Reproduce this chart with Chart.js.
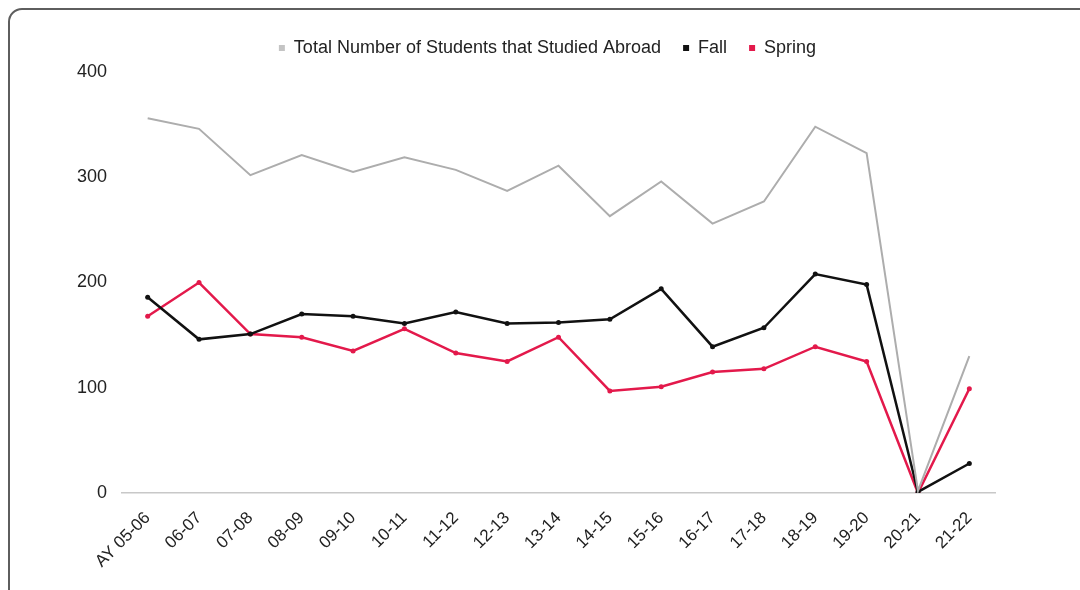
<!DOCTYPE html>
<html>
<head>
<meta charset="utf-8">
<script src="https://cdn.jsdelivr.net/npm/chart.js@4/dist/chart.umd.min.js"></script>
<style>
  html, body { margin: 0; padding: 0; background: #ffffff; overflow: hidden; }
  #wrap { position: relative; width: 1080px; height: 590px; }
  #frame { position: absolute; left: 8px; top: 8px; width: 1100px; height: 620px;
           border: 2.5px solid #5e5e5e; border-radius: 14px; box-sizing: border-box; }
  canvas { position: absolute; left: 0; top: 0; }
</style>
</head>
<body>
<div id="wrap">
  <div id="frame"></div>
  <canvas id="c" width="1080" height="590"></canvas>
</div>
<script>
const categories = ["AY 05-06","06-07","07-08","08-09","09-10","10-11","11-12","12-13","13-14","14-15","15-16","16-17","17-18","18-19","19-20","20-21","21-22"];
const totalStudents = [356,346,302,321,305,319,307,287,311,263,296,256,277,348,323,2,130];
const fallStudents = [186,146,151,170,168,161,172,161,162,165,194,139,157,208,198,1,28];
const springStudents = [168,200,151,148,135,156,133,125,148,97,101,115,118,139,125,0,99];
const yTicks = [0,100,200,300,400];

const seriesNames = ["Total Number of Students that Studied Abroad","Fall","Spring"];
const seriesColors = ["#adadad","#111111","#e3194b"];
const FONT = 'Arial, "Liberation Sans", sans-serif';

const ds = [totalStudents, fallStudents, springStudents].map((d, i) => ({
  label: seriesNames[i],
  data: d,
  borderColor: seriesColors[i],
  backgroundColor: seriesColors[i],
  borderWidth: i === 0 ? 2 : 2.5,
  pointRadius: i === 0 ? 0 : 2.5,
  pointHoverRadius: 3,
  pointBackgroundColor: seriesColors[i],
  pointBorderWidth: 0,
  tension: 0
}));

const legendSpacer = {
  id: 'legendSpacer',
  afterInit(chart) {
    const lg = chart.legend;
    if (!lg) return;
    const orig = lg.fit;
    lg.fit = function () { orig.call(this); this.height += 5; };
  },
  afterLayout(chart) {
    const lg = chart.legend;
    if (!lg) return;
    lg.left += 20;
    lg.right += 20;
  }
};

new Chart(document.getElementById('c'), {
  type: 'line',
  data: { labels: categories, datasets: ds },
  plugins: [legendSpacer],
  options: {
    responsive: false,
    animation: false,
    layout: { padding: { left: 60, right: 85, top: 17, bottom: 0 } },
    plugins: {
      tooltip: { enabled: false },
      legend: {
        position: 'top',
        align: 'center',
        labels: {
          color: '#222',
          font: { family: FONT, size: 18 },
          boxWidth: 6,
          boxHeight: 6,
          padding: 22,
          generateLabels: (chart) => chart.data.datasets.map((d, i) => ({
            text: d.label,
            fillStyle: i === 0 ? '#c4c4c4' : d.borderColor,
            strokeStyle: i === 0 ? '#c4c4c4' : d.borderColor,
            lineWidth: 0,
            fontColor: '#222',
            datasetIndex: i,
            hidden: false
          }))
        }
      }
    },
    scales: {
      x: {
        offset: true,
        grid: { display: false, drawTicks: false },
        border: { display: true, color: '#c8c8c8', width: 1.5 },
        ticks: {
          color: '#222',
          font: { family: FONT, size: 17 },
          minRotation: 45,
          maxRotation: 45,
          padding: 15,
          autoSkip: false
        },
        afterFit: (s) => { s.height = 97; }
      },
      y: {
        min: 0,
        max: 400,
        afterBuildTicks: (s) => { s.ticks = yTicks.map(v => ({ value: v })); },
        grid: { display: false, drawTicks: false },
        border: { display: false },
        ticks: {
          color: '#222',
          font: { family: FONT, size: 18 },
          padding: 15
        },
        afterFit: (s) => { s.width = 62; }
      }
    }
  }
});
</script>
</body>
</html>
